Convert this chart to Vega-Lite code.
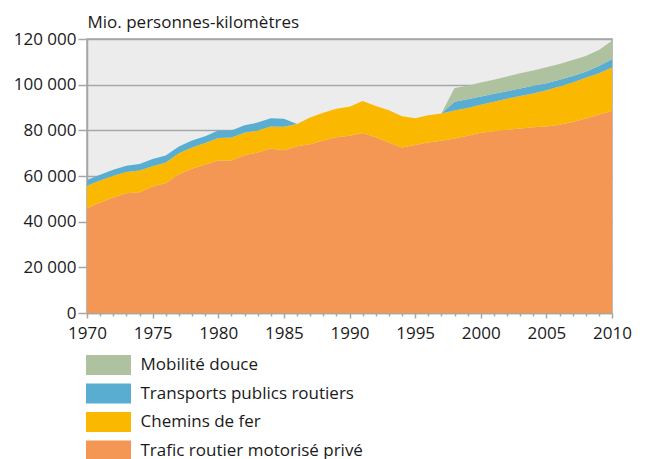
{
  "$schema": "https://vega.github.io/schema/vega-lite/v6.json",
  "width": 525,
  "height": 274,
  "autosize": {"type": "none"},
  "padding": {"left": 87, "top": 39, "right": 39, "bottom": 146},
  "config": {
    "font": "Open Sans",
    "view": {"fill": "#ececec", "stroke": "#a6a6a6", "strokeWidth": 1.5},
    "axis": {"labelFont": "Open Sans", "labelFontSize": 17, "labelColor": "#1a1a1a", "domainColor": "#a6a6a6", "domainWidth": 1.5, "tickColor": "#a6a6a6", "tickWidth": 1.5, "gridColor": "#a6a6a6", "gridWidth": 1.5},
    "legend": {"labelFont": "Open Sans", "labelFontSize": 17, "labelColor": "#1a1a1a"}
  },
  "data": {"values": [
    {"year":1970,"P":45900,"R":9800,"B":2600,"M":0},
    {"year":1971,"P":48400,"R":9600,"B":2500,"M":0},
    {"year":1972,"P":50600,"R":9500,"B":2600,"M":0},
    {"year":1973,"P":52400,"R":9300,"B":2800,"M":0},
    {"year":1974,"P":52900,"R":9500,"B":2900,"M":0},
    {"year":1975,"P":55400,"R":8900,"B":3100,"M":0},
    {"year":1976,"P":56900,"R":9000,"B":3100,"M":0},
    {"year":1977,"P":60800,"R":9200,"B":2900,"M":0},
    {"year":1978,"P":63200,"R":9300,"B":3000,"M":0},
    {"year":1979,"P":65000,"R":9400,"B":3000,"M":0},
    {"year":1980,"P":66800,"R":9800,"B":3300,"M":0},
    {"year":1981,"P":66800,"R":10100,"B":3000,"M":0},
    {"year":1982,"P":69100,"R":9800,"B":3300,"M":0},
    {"year":1983,"P":70300,"R":9600,"B":3500,"M":0},
    {"year":1984,"P":72000,"R":9700,"B":3600,"M":0},
    {"year":1985,"P":71300,"R":10300,"B":3500,"M":0},
    {"year":1986,"P":73000,"R":9800,"B":0,"M":0},
    {"year":1987,"P":73900,"R":11700,"B":0,"M":0},
    {"year":1988,"P":75500,"R":12200,"B":0,"M":0},
    {"year":1989,"P":77000,"R":12400,"B":0,"M":0},
    {"year":1990,"P":77600,"R":12700,"B":0,"M":0},
    {"year":1991,"P":78800,"R":14100,"B":0,"M":0},
    {"year":1992,"P":77000,"R":13700,"B":0,"M":0},
    {"year":1993,"P":74700,"R":14100,"B":0,"M":0},
    {"year":1994,"P":72500,"R":13700,"B":0,"M":0},
    {"year":1995,"P":73600,"R":11700,"B":0,"M":0},
    {"year":1996,"P":74700,"R":11900,"B":0,"M":0},
    {"year":1997,"P":75400,"R":12000,"B":0,"M":0},
    {"year":1998,"P":76400,"R":12300,"B":3800,"M":6000},
    {"year":1999,"P":77600,"R":12200,"B":3800,"M":5900},
    {"year":2000,"P":78900,"R":12300,"B":3600,"M":6100},
    {"year":2001,"P":79600,"R":12900,"B":3500,"M":6100},
    {"year":2002,"P":80200,"R":13600,"B":3300,"M":6500},
    {"year":2003,"P":80800,"R":14200,"B":3300,"M":6700},
    {"year":2004,"P":81400,"R":14700,"B":3400,"M":6700},
    {"year":2005,"P":81700,"R":15900,"B":3000,"M":7000},
    {"year":2006,"P":82500,"R":16700,"B":2900,"M":7000},
    {"year":2007,"P":83700,"R":17200,"B":2900,"M":7000},
    {"year":2008,"P":85200,"R":17800,"B":2700,"M":6900},
    {"year":2009,"P":86900,"R":18100,"B":3200,"M":7000},
    {"year":2010,"P":88500,"R":19000,"B":3600,"M":8100}
  ]},
  "transform": [
    {"fold": ["P", "R", "B", "M"], "as": ["code", "value"]},
    {"lookup": "code", "from": {"data": {"values": [
      {"code": "P", "mode": "Trafic routier motorisé privé", "k": 0},
      {"code": "R", "mode": "Chemins de fer", "k": 1},
      {"code": "B", "mode": "Transports publics routiers", "k": 2},
      {"code": "M", "mode": "Mobilité douce", "k": 3}
    ]}, "key": "code", "fields": ["mode", "k"]}}
  ],
  "mark": {"type": "area", "interpolate": "linear"},
  "encoding": {
    "x": {
      "field": "year", "type": "quantitative",
      "scale": {"domain": [1970, 2010], "nice": false, "zero": false},
      "axis": {
        "title": null, "grid": false,
        "values": [1970,1971,1972,1973,1974,1975,1976,1977,1978,1979,1980,1981,1982,1983,1984,1985,1986,1987,1988,1989,1990,1991,1992,1993,1994,1995,1996,1997,1998,1999,2000,2001,2002,2003,2004,2005,2006,2007,2008,2009,2010],
        "labelExpr": "datum.value % 5 === 0 ? datum.value + '' : ''",
        "labelFlush": false, "labelOverlap": false,
        "tickSize": {"condition": {"test": "datum.value % 5 === 0", "value": 5}, "value": 3},
        "labelPadding": 7
      }
    },
    "y": {
      "field": "value", "type": "quantitative", "stack": "zero",
      "scale": {"domain": [0, 120000], "nice": false},
      "axis": {
        "values": [0, 20000, 40000, 60000, 80000, 100000, 120000],
        "labelExpr": "replace(format(datum.value, ',d'), ',', ' ')",
        "tickSize": 9, "labelPadding": 2,
        "title": "Mio. personnes-kilomètres",
        "titleAngle": 0, "titleAlign": "left", "titleBaseline": "alphabetic",
        "titleX": 0, "titleY": -12,
        "titleFont": "Open Sans", "titleFontSize": 17, "titleFontWeight": "normal", "titleColor": "#1a1a1a"
      }
    },
    "color": {
      "field": "mode", "type": "nominal",
      "scale": {
        "domain": ["Mobilité douce", "Transports publics routiers", "Chemins de fer", "Trafic routier motorisé privé"],
        "range": ["#afc29f", "#58add1", "#fab900", "#f49654"]
      },
      "legend": {
        "title": null, "orient": "none", "legendX": 11.5, "legendY": 316,
        "direction": "vertical",
        "symbolType": "M-2.25,-1H2.25V1H-2.25Z", "symbolSize": 400,
        "symbolStrokeWidth": 0, "symbolOpacity": 1,
        "labelOffset": 22, "rowPadding": 8.5, "labelLimit": 400
      }
    },
    "order": {"field": "k", "type": "quantitative"}
  }
}
